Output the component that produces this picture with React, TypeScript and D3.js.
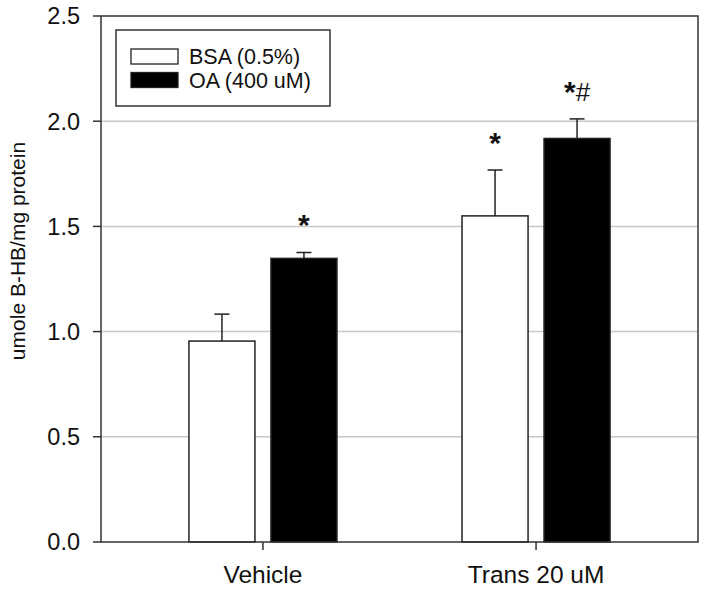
import React from "react";
import * as d3 from "d3";

const categories = ["Vehicle", "Trans 20 uM"];
const seriesNames = ["BSA (0.5%)", "OA (400 uM)"];
const bsaValues = [0.955, 1.55];
const bsaErrors = [0.128, 0.218];
const oaValues = [1.348, 1.918];
const oaErrors = [0.028, 0.093];
const bsaMarks = ["", "*"];
const oaMarks = ["*", "*#"];
const yTicks = [0, 0.5, 1.0, 1.5, 2.0, 2.5];
const gridValues = [0.5, 1.0, 1.5, 2.0];

const W = 706;
const H = 592;
const plot = { left: 101, right: 698, top: 16, bottom: 542 };
const FONT = "Liberation Sans, Arial, Helvetica, sans-serif";

export default function App() {
  const y = d3.scaleLinear().domain([0, 2.5]).range([plot.bottom, plot.top]);
  const x0 = d3
    .scaleBand<string>()
    .domain(categories)
    .range([plot.left, plot.right])
    .paddingInner(0.458)
    .paddingOuter(0.322);
  const x1 = d3
    .scaleBand<string>()
    .domain(seriesNames)
    .range([0, x0.bandwidth()])
    .paddingInner(0.195)
    .paddingOuter(0);

  const series = [
    { name: seriesNames[0], values: bsaValues, errors: bsaErrors, marks: bsaMarks, fill: "#ffffff" },
    { name: seriesNames[1], values: oaValues, errors: oaErrors, marks: oaMarks, fill: "#000000" },
  ];

  return (
    <svg
      width={W}
      height={H}
      style={{ position: "absolute", left: 0, top: 0, background: "#fff" }}
      fontFamily={FONT}
    >
      <rect x={0} y={0} width={W} height={H} fill="#fff" />
      {gridValues.map((v) => (
        <line
          key={"g" + v}
          x1={plot.left}
          x2={plot.right}
          y1={y(v)}
          y2={y(v)}
          stroke="#c8c8c8"
          strokeWidth={1.5}
        />
      ))}
      {series.map((s) =>
        categories.map((c, i) => {
          const bx = (x0(c) as number) + (x1(s.name) as number);
          const bw = x1.bandwidth();
          const top = y(s.values[i]);
          const cx = bx + bw / 2;
          const et = y(s.values[i] + s.errors[i]);
          return (
            <g key={s.name + c}>
              <line x1={cx} x2={cx} y1={top} y2={et} stroke="#222" strokeWidth={1.5} />
              <line x1={cx - 7.5} x2={cx + 7.5} y1={et} y2={et} stroke="#222" strokeWidth={1.5} />
              <rect
                x={bx}
                y={top}
                width={bw}
                height={plot.bottom - top}
                fill={s.fill}
                stroke="#222"
                strokeWidth={1.5}
              />
              {s.marks[i] && (
                <text x={cx} y={et - 17} textAnchor="middle" fill="#111">
                  {s.marks[i].split("").map((ch, k) => (
                    <tspan
                      key={k}
                      fontWeight={ch === "*" ? "bold" : "normal"}
                      fontSize={ch === "*" ? 30 : 26}
                      dy={ch === "#" ? -1 : 0}
                    >
                      {ch}
                    </tspan>
                  ))}
                </text>
              )}
            </g>
          );
        })
      )}
      <rect
        x={plot.left}
        y={plot.top}
        width={plot.right - plot.left}
        height={plot.bottom - plot.top}
        fill="none"
        stroke="#333"
        strokeWidth={1.5}
      />
      {yTicks.map((v) => (
        <g key={"t" + v}>
          <line x1={plot.left - 8} x2={plot.left} y1={y(v)} y2={y(v)} stroke="#333" strokeWidth={1.5} />
          <text x={80} y={y(v)} dy="0.36em" textAnchor="end" fontSize={23.5} fill="#111">
            {v.toFixed(1)}
          </text>
        </g>
      ))}
      {categories.map((c) => {
        const cx = (x0(c) as number) + x0.bandwidth() / 2;
        return (
          <g key={"x" + c}>
            <line x1={cx} x2={cx} y1={plot.bottom} y2={plot.bottom + 8} stroke="#333" strokeWidth={1.5} />
            <text x={cx} y={583} textAnchor="middle" fontSize={24.5} fill="#111">
              {c}
            </text>
          </g>
        );
      })}
      <text
        transform="translate(25,251) rotate(-90)"
        textAnchor="middle"
        fontSize={21}
        fill="#111"
      >
        umole B-HB/mg protein
      </text>
      <rect x={116} y={30} width={214} height={76} fill="#fff" stroke="#333" strokeWidth={1.5} />
      {series.map((s, i) => (
        <g key={"l" + s.name}>
          <rect
            x={131}
            y={49 + i * 23.5}
            width={47}
            height={15}
            fill={s.fill}
            stroke="#222"
            strokeWidth={1.3}
          />
          <text x={189} y={64 + i * 23.5} fontSize={21.5} fill="#111">
            {s.name}
          </text>
        </g>
      ))}
    </svg>
  );
}
